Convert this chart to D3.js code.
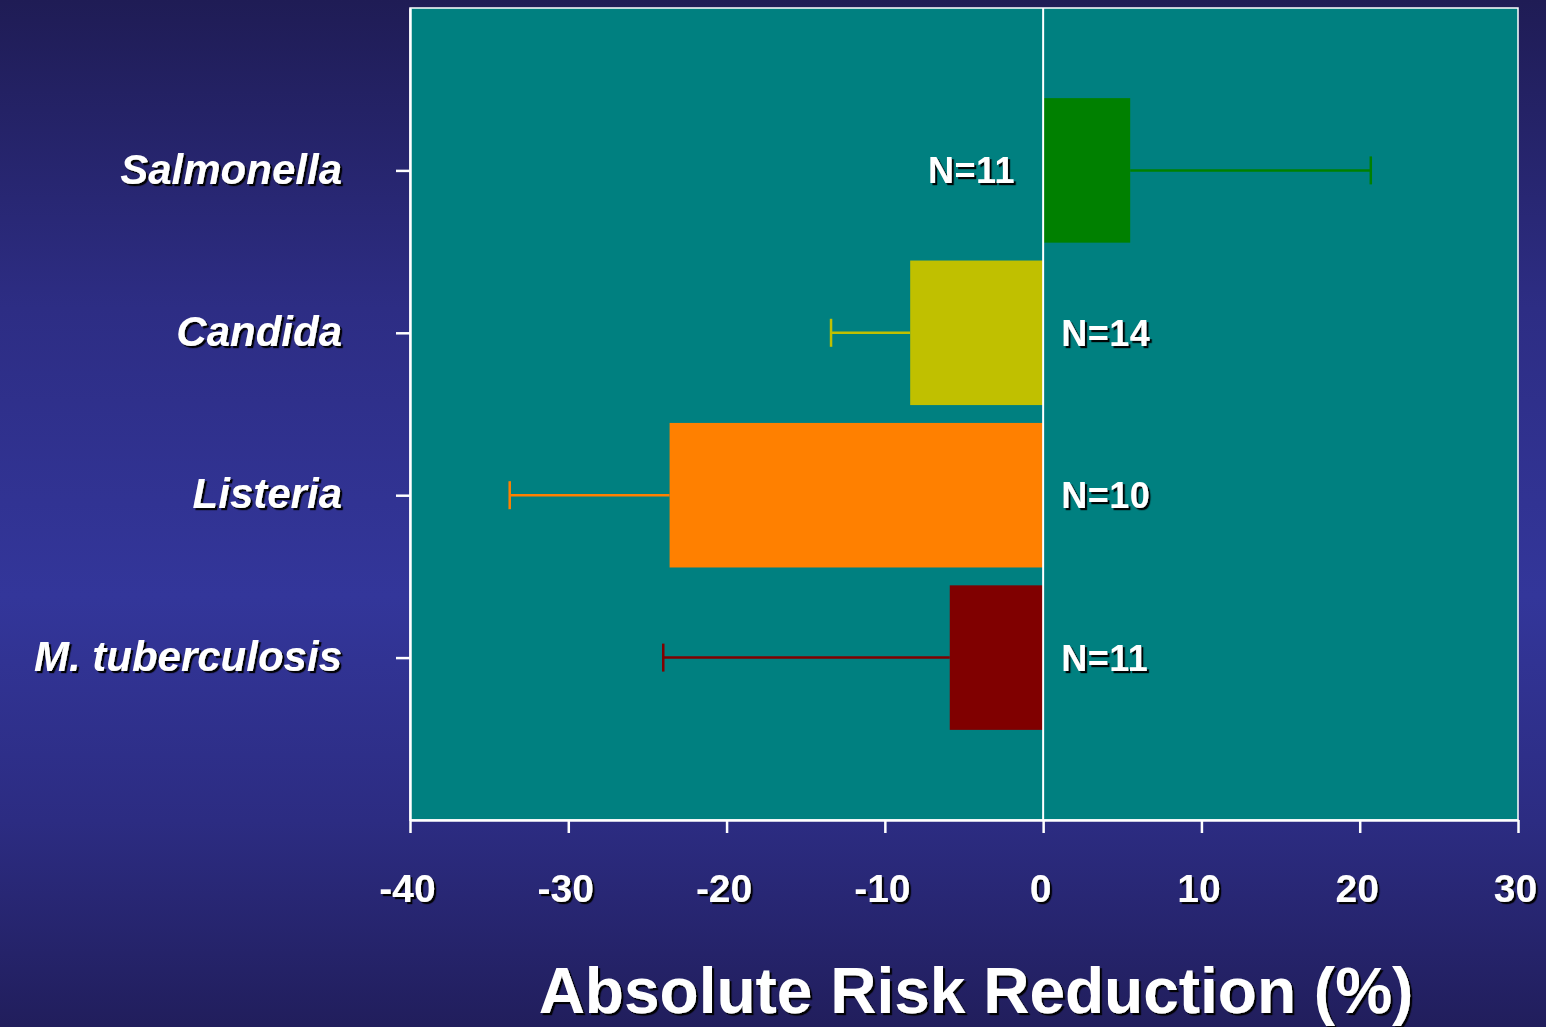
<!DOCTYPE html>
<html>
<head>
<meta charset="utf-8">
<script src="https://cdn.jsdelivr.net/npm/d3@7"></script>
<style>
  html, body { margin: 0; padding: 0; overflow: hidden; }
  body { width: 1546px; height: 1027px; }
  svg { display: block; font-family: Arial, "Liberation Sans", sans-serif; }
</style>
</head>
<body>
<svg id="chart" width="1546" height="1027"></svg>
<script>
// Pathogens, absolute risk reduction (%) and the far limit of each confidence interval
const categories = ["Salmonella", "Candida", "Listeria", "M. tuberculosis"];
const arr = [5.5, -8.4, -23.6, -5.9];
const ciLimit = [20.7, -13.4, -33.7, -24.0];
const nLabels = ["N=11", "N=14", "N=10", "N=11"];
const barColors = ["#008000", "#c0c000", "#ff8000", "#800000"];
const xTicks = [-40, -30, -20, -10, 0, 10, 20, 30];
const axisTitle = "Absolute Risk Reduction (%)";

const W = 1546, H = 1027;
const plot = { left: 410, right: 1518, top: 8, bottom: 820 };

const svg = d3.select("#chart");
const defs = svg.append("defs");

// Slide background: dark navy at the edges, brighter blue through the middle
const bg = defs.append("linearGradient")
  .attr("id", "bgGrad").attr("x1", 0).attr("y1", 0).attr("x2", 0).attr("y2", 1);
bg.append("stop").attr("offset", "0%").attr("stop-color", "#1f1c55");
bg.append("stop").attr("offset", "30%").attr("stop-color", "#2d2d84");
bg.append("stop").attr("offset", "58%").attr("stop-color", "#33369a");
bg.append("stop").attr("offset", "80%").attr("stop-color", "#2c2c82");
bg.append("stop").attr("offset", "100%").attr("stop-color", "#211e5c");

// Hard dark drop shadow behind white lettering
const shadow = defs.append("filter").attr("id", "txtShadow")
  .attr("x", "-10%").attr("y", "-20%").attr("width", "130%").attr("height", "150%");
shadow.append("feDropShadow")
  .attr("dx", 2.2).attr("dy", 2.2).attr("stdDeviation", 0.5)
  .attr("flood-color", "#000").attr("flood-opacity", 0.95);

svg.append("rect").attr("width", W).attr("height", H).attr("fill", "url(#bgGrad)");

const x = d3.scaleLinear().domain([-40, 30]).range([plot.left, plot.right]);
const y = d3.scalePoint().domain(categories).range([plot.top, plot.bottom]).padding(1);
const barH = y.step() * 0.89;

// Plot panel
svg.append("rect")
  .attr("x", plot.left).attr("y", plot.top)
  .attr("width", plot.right - plot.left).attr("height", plot.bottom - plot.top)
  .attr("fill", "#008080")
  .attr("stroke", "#ffffff").attr("stroke-width", 1.5);

const rows = categories.map((c, i) => ({
  cat: c, v: arr[i], ci: ciLimit[i], n: nLabels[i], color: barColors[i]
}));

// Bars from zero to the risk reduction
svg.append("g").selectAll("rect").data(rows).join("rect")
  .attr("x", d => x(Math.min(0, d.v)))
  .attr("y", d => y(d.cat) - barH / 2)
  .attr("width", d => Math.abs(x(d.v) - x(0)))
  .attr("height", barH)
  .attr("fill", d => d.color);

// One-sided error bars running outward from the bar end
const err = svg.append("g").selectAll("g").data(rows).join("g");
err.append("line")
  .attr("x1", d => x(d.v)).attr("x2", d => x(d.ci))
  .attr("y1", d => y(d.cat)).attr("y2", d => y(d.cat))
  .attr("stroke", d => d.color).attr("stroke-width", 2.5);
err.append("line")
  .attr("x1", d => x(d.ci)).attr("x2", d => x(d.ci))
  .attr("y1", d => y(d.cat) - 14).attr("y2", d => y(d.cat) + 14)
  .attr("stroke", d => d.color).attr("stroke-width", 2.5);

// Zero reference line
svg.append("line")
  .attr("x1", x(0)).attr("x2", x(0))
  .attr("y1", plot.top).attr("y2", plot.bottom)
  .attr("stroke", "#ffffff").attr("stroke-width", 2);

// Sample sizes, on the side of zero opposite the bar
svg.append("g").selectAll("text").data(rows).join("text")
  .attr("x", d => d.v > 0 ? x(0) - 28 : x(0) + 18)
  .attr("y", d => y(d.cat) + 13)
  .attr("text-anchor", d => d.v > 0 ? "end" : "start")
  .attr("fill", "#ffffff")
  .attr("font-weight", "bold")
  .attr("font-size", 36)
  .attr("letter-spacing", 0.5)
  .attr("filter", "url(#txtShadow)")
  .text(d => d.n);

// X axis
const xAxis = svg.append("g")
  .attr("transform", `translate(0,${plot.bottom})`)
  .call(d3.axisBottom(x).tickValues(xTicks).tickSize(13).tickSizeOuter(0).tickPadding(41)
    .tickFormat(d => String(d)));
xAxis.select(".domain").attr("stroke", "#ffffff").attr("stroke-width", 2.5);
xAxis.selectAll(".tick line").attr("stroke", "#ffffff").attr("stroke-width", 2.5);
xAxis.selectAll(".tick text")
  .attr("fill", "#ffffff")
  .attr("font-family", "Arial, 'Liberation Sans', sans-serif")
  .attr("font-weight", "bold")
  .attr("font-size", 39)
  .attr("dx", -3)
  .attr("filter", "url(#txtShadow)");

// Y axis with italic pathogen names
const yAxis = svg.append("g")
  .attr("transform", `translate(${plot.left},0)`)
  .call(d3.axisLeft(y).tickSize(14).tickSizeOuter(0).tickPadding(54));
yAxis.select(".domain").attr("stroke", "#ffffff").attr("stroke-width", 2.5);
yAxis.selectAll(".tick line").attr("stroke", "#ffffff").attr("stroke-width", 2.5);
yAxis.selectAll(".tick text")
  .attr("fill", "#ffffff")
  .attr("font-family", "Arial, 'Liberation Sans', sans-serif")
  .attr("font-weight", "bold")
  .attr("font-style", "italic")
  .attr("font-size", 42)
  .attr("dy", "0.3em")
  .attr("filter", "url(#txtShadow)");

// Axis title
svg.append("text")
  .attr("x", 976).attr("y", 1013)
  .attr("text-anchor", "middle")
  .attr("fill", "#ffffff")
  .attr("font-weight", "bold")
  .attr("font-size", 64)
  .attr("filter", "url(#txtShadow)")
  .text(axisTitle);
</script>
</body>
</html>
